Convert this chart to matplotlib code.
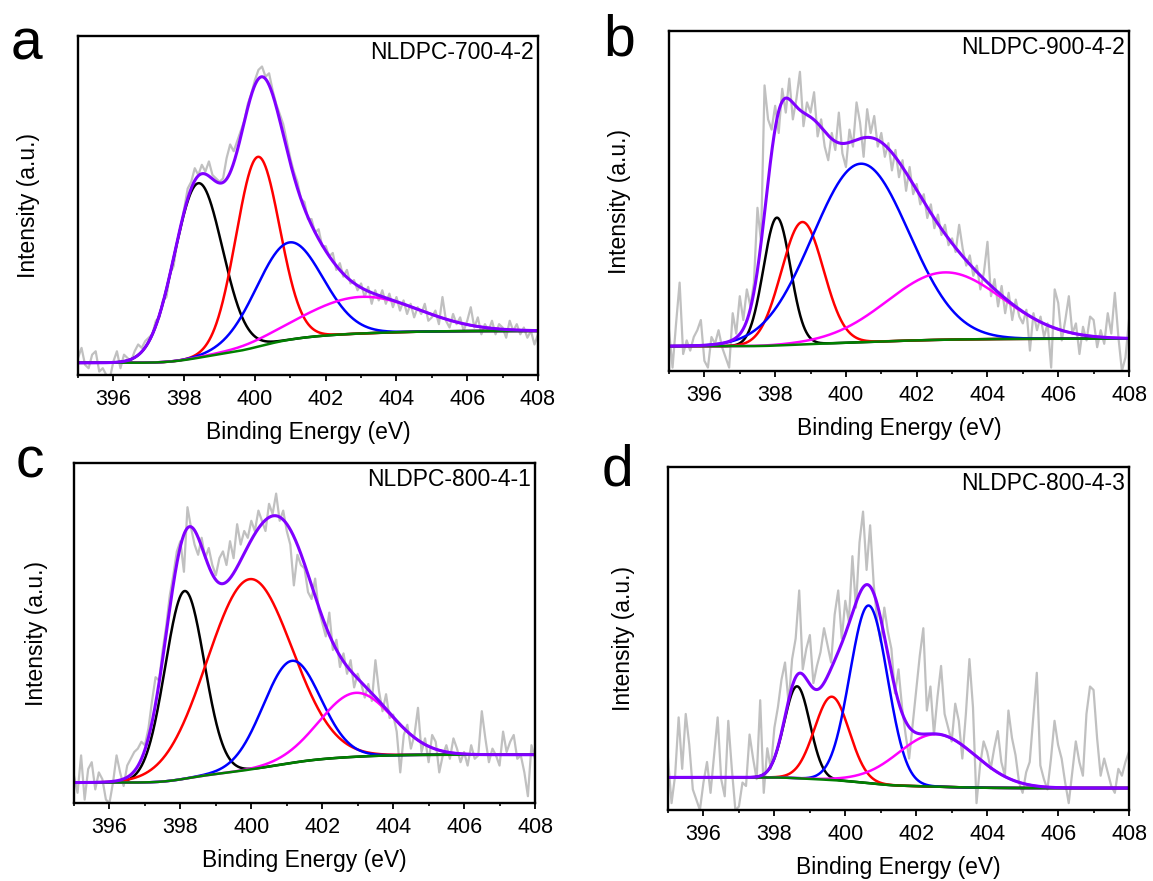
import numpy as np
import matplotlib
matplotlib.use('Agg')
import matplotlib.pyplot as plt

plt.rcParams['font.family'] = ['Liberation Sans', 'DejaVu Sans']

W, H = 1153, 881
X_MIN, X_MAX = 395, 408

# ── raw spectra, intensity in % of axis height, 395.0 → 408.0 eV, 0.1 eV step ─
raw_a = [5, 8, 3, 2, 6, 7, 1, 2, 0, -1, 4, 7, 2, 6, 5,
         4, 7, 9, 8, 10,
         11, 12, 16, 17, 22, 23, 30, 32, 39, 43,
         49, 55, 57, 61, 59, 62, 60, 63, 59, 58,
         57, 58, 64, 68, 66, 69, 72, 75, 80, 83,
         87, 90, 91, 88, 89, 84, 80, 77, 74, 69,
         64, 60, 57, 52, 51, 46, 46, 42, 43, 38,
         38, 35, 36, 31, 33, 29, 31, 27, 28, 25,
         27, 23, 26, 21, 25, 22, 25, 21, 24, 20,
         23, 19, 22, 18, 21, 17, 20, 18, 21, 16,
         17, 19, 15, 23, 16, 14, 18, 15, 17, 13,
         16, 20, 14, 17, 12, 15, 13, 16, 12, 15,
         14, 11, 16, 13, 15, 12, 14, 11, 13, 9, 12]
raw_b = [12, 1, 14, 26, 5, 9, 6, 10, 12, 15, 3, 1, 10, 8, 12, 7, 4, 1, 17, 11,
         22, 15, 24, 19, 26, 48, 38, 84, 74, 71,
         78, 70, 83, 76, 86, 74, 80, 88, 72, 79,
         76, 82, 69, 74, 66, 62, 70, 65, 76, 64,
         60, 71, 66, 79, 73, 63, 77, 70, 75, 66,
         70, 63, 67, 59, 65, 57, 62, 53, 60, 52,
         55, 49, 52, 45, 49, 42, 46, 40, 43, 37,
         39, 35, 43, 36, 31, 34, 28, 31, 24, 29,
         38, 22, 27, 19, 25, 17, 23, 15, 21, 16,
         14, 18, 6, 17, 12, 16, 10, 14, 1, 24,
         20, 9, 15, 22, 11, 14, 5, 13, 9, 16,
         15, 7, 12, 8, 17, 11, 23, 10, 0, 4, 15]
raw_c = [8, 3, 14, 1, 10, 12, 4, 9, 7, 1, 0, 6, 14, 9, 5, 11, 13, 15, 16, 18,
         17, 22, 30, 37, 36, 45, 52, 61, 67, 74,
         77, 68, 87, 81, 76, 73, 78, 72, 75, 70,
         67, 72, 74, 70, 77, 72, 82, 76, 80, 78,
         83, 80, 86, 83, 80, 88, 85, 91, 83, 86,
         80, 76, 64, 73, 70, 69, 62, 60, 66, 57,
         53, 49, 56, 45, 48, 40, 44, 38, 42, 34,
         38, 35, 31, 35, 30, 42, 33, 27, 32, 25,
         26, 21, 9, 20, 23, 16, 20, 28, 15, 19,
         12, 20, 18, 9, 14, 17, 13, 19, 16, 12,
         15, 11, 17, 13, 14, 27, 19, 12, 16, 14,
         11, 21, 15, 18, 20, 13, 14, 9, 2, 17, 13]
raw_d = [15, 2, 10, 27, 12, 28, 19, 6, 3, 0, 8, 14, 5, 16, 27, 9, 4, 26, 12, 0,
         1, 8, 7, 22, 15, 9, 32, 5, 18, 12,
         24, 30, 38, 43, 31, 44, 50, 64, 41, 47,
         51, 37, 42, 46, 53, 48, 43, 57, 64, 50,
         61, 55, 74, 59, 78, 87, 70, 83, 66, 55,
         49, 59, 52, 47, 34, 41, 30, 22, 15, 25,
         35, 45, 53, 29, 36, 22, 33, 42, 28, 24,
         20, 31, 26, 15, 28, 44, 30, 2, 13, 20,
         17, 12, 18, 23, 14, 10, 29, 21, 16, 8,
         5, 11, 14, 27, 40, 13, 9, 6, 15, 26,
         19, 15, 8, 2, 11, 20, 14, 10, 28, 36,
         35, 21, 10, 15, 11, 7, 5, 12, 10, 14, 17]

# ── fitted components: (centre eV, FWHM eV, height % of axis) ────────────────
PANELS = ['a', 'b', 'c', 'd']
SAMPLES = ['NLDPC-700-4-2', 'NLDPC-900-4-2', 'NLDPC-800-4-1', 'NLDPC-800-4-3']

# background level at low / high binding energy
bg_a = (3.6, 13.0)
peaks_a = [(398.40, 1.60, 51.5), (400.08, 1.45, 56.0), (400.97, 2.20, 28.7), (403.00, 3.80, 10.8)]
bg_b = (7.3, 9.5)
peaks_b = [(398.05, 0.90, 37.6), (398.77, 1.40, 36.0), (400.42, 3.20, 52.5), (402.80, 3.80, 19.8)]
bg_c = (6.0, 14.2)
peaks_c = [(398.12, 1.30, 55.2), (399.95, 2.80, 56.0), (401.14, 1.90, 30.0), (402.95, 2.40, 18.8)]
bg_d = (9.5, 6.4)
peaks_d = [(398.64, 0.85, 26.8), (399.62, 1.15, 24.3), (400.66, 1.25, 51.8), (402.57, 2.60, 15.3)]

PEAK_COLORS = ['black', '#FF0000', '#0000FF', '#FF00FF']
BG_COLOR = '#008000'
ENV_COLOR = '#8000FF'
RAW_COLOR = '#C0C0C0'

# axes boxes in pixels: left, top, right, bottom
BOXES = {'a': (78, 36, 538, 375), 'b': (669, 31, 1129, 371),
         'c': (74, 463, 535, 803), 'd': (668, 467, 1129, 810)}
YLAB_X = {'a': -0.082, 'b': -0.082, 'c': -0.057, 'd': -0.071}
LETTER_POS = {'a': (11, 60), 'b': (603, 55), 'c': (16, 477), 'd': (602, 485)}


def gauss(x, c, fwhm, h):
    return h * np.exp(-4 * np.log(2) * (x - c) ** 2 / fwhm ** 2)


def build(bg, peaks, x):
    # Shirley-type step: grows with the peak area already passed
    comps = [gauss(x, *p) for p in peaks]
    total = np.sum(comps, axis=0)
    frac = np.cumsum(total) / np.sum(total)
    base = bg[0] + (bg[1] - bg[0]) * frac
    return base, comps


fig = plt.figure(figsize=(W / 100, H / 100), dpi=100)
x = np.linspace(X_MIN, X_MAX, 1301)

for key, name, raw, bg, peaks in zip(PANELS, SAMPLES,
                                     [raw_a, raw_b, raw_c, raw_d],
                                     [bg_a, bg_b, bg_c, bg_d],
                                     [peaks_a, peaks_b, peaks_c, peaks_d]):
    l, t, r, b = BOXES[key]
    ax = fig.add_axes([l / W, 1 - b / H, (r - l) / W, (b - t) / H])

    x_raw = np.linspace(X_MIN, X_MAX, len(raw))
    ax.plot(x_raw, raw, color=RAW_COLOR, lw=1.6)

    base, comps = build(bg, peaks, x)
    for comp, col in zip(comps, PEAK_COLORS):
        ax.plot(x, base + comp, color=col, lw=1.8)
    ax.plot(x, base, color=BG_COLOR, lw=1.8)
    ax.plot(x, base + np.sum(comps, axis=0), color=ENV_COLOR, lw=2.2)

    ax.set_xlim(X_MIN, X_MAX)
    ax.set_ylim(0, 100)
    ax.set_xticks(np.arange(396, 409, 2))
    ax.set_xticks(np.arange(395, 409, 1), minor=True)
    ax.set_yticks([])
    ax.tick_params(axis='x', which='major', direction='out', length=4, width=1.3,
                   labelsize=15.5, pad=6)
    ax.tick_params(axis='x', which='minor', direction='out', length=2.5, width=1.2)
    for sp in ax.spines.values():
        sp.set_linewidth(1.7)
    ax.set_xlabel('Binding Energy (eV)', fontsize=16.5, labelpad=8)
    ax.set_ylabel('Intensity (a.u.)', fontsize=16.5)
    ax.yaxis.set_label_coords(YLAB_X[key], 0.5)
    h = b - t
    ax.text(1 - 4 / (r - l), 1 - 23 / h, name, transform=ax.transAxes,
            ha='right', va='baseline', fontsize=16.5)
    lx, ly = LETTER_POS[key]
    fig.text(lx / W, 1 - ly / H, key, fontsize=41, ha='left', va='baseline')

fig.savefig('out.png', dpi=100)
